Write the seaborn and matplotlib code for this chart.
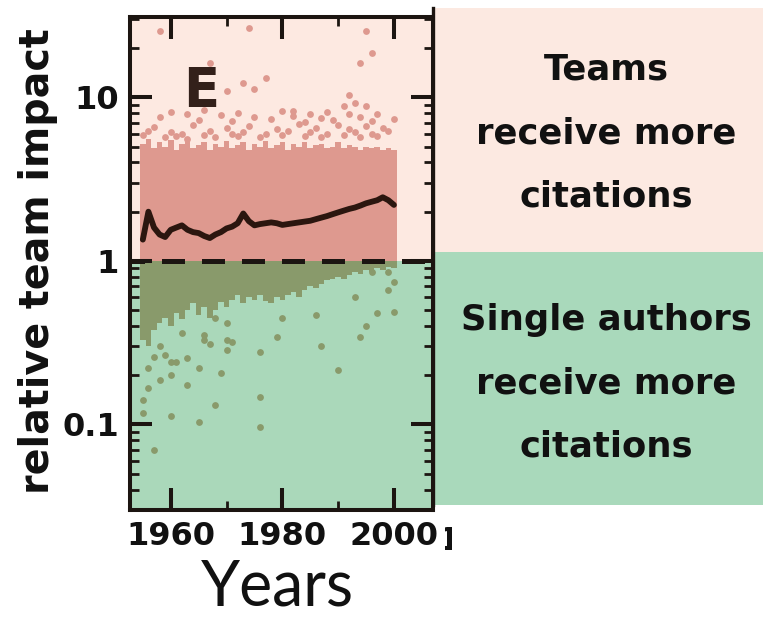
import matplotlib
matplotlib.use("Agg")
import matplotlib.pyplot as plt
from matplotlib.ticker import FixedLocator, LogLocator, NullFormatter
from matplotlib.transforms import Bbox, TransformedBbox
import seaborn as sns

# ---- data -------------------------------------------------------------
years = list(range(1955, 2001))

# median relative team impact per year
median_impact = [1.35, 2.00, 1.60, 1.45, 1.40, 1.55, 1.60, 1.65, 1.55, 1.50,
                 1.48, 1.42, 1.38, 1.45, 1.50, 1.58, 1.62, 1.70, 1.95, 1.75,
                 1.65, 1.68, 1.70, 1.72, 1.70, 1.66, 1.68, 1.70, 1.72, 1.74,
                 1.76, 1.80, 1.84, 1.88, 1.93, 1.98, 2.03, 2.08, 2.12, 2.18,
                 2.25, 2.30, 2.35, 2.45, 2.35, 2.20]

# upper edge of the dense cloud of fields where teams win (> 1)
team_band_top = [5.2, 5.6, 4.9, 5.3, 5.0, 5.5, 4.8, 5.2, 5.4, 4.9,
                 5.1, 5.3, 4.8, 5.2, 5.0, 5.4, 4.9, 5.1, 5.3, 4.8,
                 5.2, 5.0, 5.4, 4.9, 5.1, 5.3, 4.8, 5.2, 5.0, 5.3,
                 4.9, 5.1, 5.2, 4.9, 5.0, 5.3, 4.9, 5.1, 5.0, 4.8,
                 5.0, 4.9, 5.0, 4.8, 4.9, 4.8]

# lower edge of the dense cloud of fields where single authors win (< 1)
solo_band_bottom = [0.33, 0.30, 0.38, 0.42, 0.45, 0.40, 0.48, 0.44, 0.50, 0.55,
                    0.47, 0.52, 0.45, 0.50, 0.56, 0.52, 0.58, 0.62, 0.55, 0.60,
                    0.58, 0.62, 0.57, 0.55, 0.60, 0.58, 0.62, 0.65, 0.60, 0.66,
                    0.70, 0.68, 0.72, 0.76, 0.78, 0.80, 0.78, 0.82, 0.85, 0.83,
                    0.88, 0.86, 0.90, 0.88, 0.92, 0.90]

# individual fields above the dense team cloud
team_dot_years = [1958, 1974, 1995, 1967, 1970, 1973, 1975, 1977, 1994, 1996,
                  1992, 1993, 1995, 1982, 1991,
                  1958, 1965, 1969, 1971, 1975, 1978, 1982, 1984, 1987, 1989,
                  1992, 1994, 1996, 2000,
                  1957, 1964, 1970, 1974, 1979, 1983, 1986, 1990, 1992, 1995,
                  1998,
                  1955, 1956, 1959, 1960, 1961, 1962, 1963, 1966, 1967, 1968,
                  1971, 1972, 1973, 1976, 1977, 1980, 1981, 1984, 1985, 1987,
                  1988, 1991, 1993, 1994, 1996, 1997, 1999,
                  1960, 1963, 1966, 1972, 1980, 1985, 1988, 1997]
team_dot_values = [25.6, 26.5, 25.3, 16.3, 11.0, 12.3, 11.3, 13.1, 16.3, 18.6,
                   10.3, 9.3, 8.8, 8.3, 8.8,
                   7.6, 7.3, 7.8, 7.2, 7.6, 7.4, 7.7, 7.1, 7.5, 7.3,
                   7.9, 7.6, 7.2, 7.4,
                   6.6, 6.8, 6.5, 6.7, 6.4, 6.9, 6.5, 6.8, 6.4, 6.7,
                   6.5,
                   5.9, 6.2, 5.7, 6.1, 5.8, 6.0, 5.6, 5.9, 6.2, 5.7,
                   6.0, 5.8, 6.1, 5.7, 6.0, 5.9, 6.2, 5.8, 6.1, 5.7,
                   6.0, 5.9, 6.1, 5.7, 6.0, 5.8, 6.2,
                   8.1, 7.9, 8.4, 8.0, 8.2, 7.9, 8.1, 7.9]

# individual fields below the dense single-author cloud
solo_dot_years = [1957, 1960, 1965, 1968, 1976, 1976, 1976, 1969, 1987, 1990,
                  1979, 1994, 1995, 1997, 2000, 1986, 1970, 1959, 1963, 1963,
                  1960, 1965, 1955, 1955, 1956, 1958, 1960, 1966, 1970, 1962,
                  1980, 1993, 1999, 2000, 1996, 1999, 1961, 1971, 1966, 1967,
                  1968, 1970, 1956, 1957, 1958]
solo_dot_values = [0.070, 0.112, 0.103, 0.132, 0.096, 0.148, 0.279, 0.207, 0.300, 0.216,
                   0.344, 0.344, 0.400, 0.480, 0.490, 0.470, 0.287, 0.267, 0.256, 0.175,
                   0.200, 0.222, 0.118, 0.142, 0.168, 0.188, 0.240, 0.330, 0.330, 0.364,
                   0.450, 0.600, 0.666, 0.740, 0.857, 0.857, 0.240, 0.320, 0.354, 0.310,
                   0.450, 0.420, 0.220, 0.260, 0.300]

year_ticks = [1960, 1980, 2000]
year_minor = [1970, 1990]
impact_ticks = [0.1, 1, 10]
impact_labels = ["0.1", "1", "10"]

# ---- style ------------------------------------------------------------
sns.set_style("ticks")
plt.rcParams["font.family"] = ["DejaVu Sans"]
plt.rcParams["axes.axisbelow"] = False

PINK_BG = "#fde9e1"
GREEN_BG = "#aad8ba"
PINK_DOT = "#de998f"
OLIVE_DOT = "#899a6b"
DARK = "#1c1511"
LINE = "#2b160f"
INK = "#111111"

fig = plt.figure(figsize=(7.63, 6.19), dpi=100)
ax = fig.add_axes([130 / 763, 109 / 619, 303 / 763, 493 / 619])
ax.set_yscale("log")
ax.set_xlim(1952.7, 2007)
ax.set_ylim(0.03, 31)

# background halves
ax.set_facecolor(PINK_BG)
ax.axhspan(0.001, 1, color=GREEN_BG, lw=0, zorder=0)

# dense clouds
ax.bar(years, [t - 1 for t in team_band_top], bottom=1, width=1.0,
       color=PINK_DOT, linewidth=0, antialiased=False, zorder=1)
ax.bar(years, [1 - b for b in solo_band_bottom], bottom=solo_band_bottom,
       width=1.0, color=OLIVE_DOT, linewidth=0, antialiased=False, zorder=1)

# scattered fields
sns.scatterplot(x=team_dot_years, y=team_dot_values, color=PINK_DOT, s=24,
                linewidth=0, ax=ax, zorder=2)
sns.scatterplot(x=solo_dot_years, y=solo_dot_values, color=OLIVE_DOT, s=24,
                linewidth=0, ax=ax, zorder=2)

# parity line and median
ax.axhline(1, color=DARK, lw=3.6, ls=(1.7, (4.6, 3.4)), zorder=3)
sns.lineplot(x=years, y=median_impact, color=LINE, lw=4.2, ax=ax, zorder=4)

ax.text(0.175, 0.82, "E", transform=ax.transAxes, fontsize=38,
        fontweight="bold", color="#33201a", ha="left", va="baseline", zorder=5)

# axes cosmetics
for sp in ax.spines.values():
    sp.set_visible(True)
    sp.set_color(DARK)
    sp.set_linewidth(2.9)
    sp.set_zorder(6)

ax.set_xticks(year_ticks, labels=[str(y) for y in year_ticks])
ax.xaxis.set_minor_locator(FixedLocator(year_minor))
ax.set_yticks(impact_ticks, labels=impact_labels)
ax.yaxis.set_minor_locator(LogLocator(base=10, subs=[2, 3, 4, 5, 6, 7, 8, 9], numticks=20))
ax.yaxis.set_minor_formatter(NullFormatter())
ax.tick_params(which="both", direction="in", top=True, right=True,
               color=DARK, labelcolor=INK)
ax.tick_params(which="major", length=16, width=2.9, labelsize=23, pad=8)
ax.tick_params(which="minor", length=6.5, width=2.0)
ax.xaxis.set_zorder(5.5)
ax.yaxis.set_zorder(5.5)
for lab in ax.get_xticklabels() + ax.get_yticklabels():
    lab.set_fontweight("bold")
ax.set_xlabel("")
ax.set_ylabel("relative team impact", fontsize=28.5, fontweight="bold", color=INK)
ax.yaxis.set_label_coords(-0.238, 0.505)

fig.text(277 / 763, 13 / 619, "Years", family="Lato", fontsize=45,
         ha="center", va="baseline", color=INK)

# cut-off tick label from the neighbouring panel
stub = fig.text(437 / 763, 69 / 619, "1", fontsize=23, fontweight="bold",
                ha="left", va="baseline", color=INK)
stub.set_clip_box(TransformedBbox(Bbox([[445 / 763, 0], [452 / 763, 0.2]]),
                                  fig.transFigure))
stub.set_clip_on(True)

# ---- explanation panel ---------------------------------------------------
ax2 = fig.add_axes([433 / 763, 114 / 619, 330 / 763, 497 / 619])
ax2.set_xlim(0, 1)
ax2.set_ylim(0, 1)
split = 0.509
ax2.axhspan(split, 1, color="#fce9e1", lw=0)
ax2.axhspan(0, split, color="#a9d9bb", lw=0)
for name, sp in ax2.spines.items():
    sp.set_visible(name == "left")
ax2.spines["left"].set_color(DARK)
ax2.spines["left"].set_linewidth(2.4)
ax2.set_xticks([])
ax2.set_yticks([])
ax2.set_facecolor("none")

ax2.text(0.525, 0.748, "Teams\nreceive more\ncitations", fontsize=25.5,
         fontweight="bold", ha="center", va="center", linespacing=2.1,
         color=INK)
ax2.text(0.525, 0.245, "Single authors\nreceive more\ncitations", fontsize=25.5,
         fontweight="bold", ha="center", va="center", linespacing=2.1,
         color=INK)

fig.savefig("out.png", dpi=100)
